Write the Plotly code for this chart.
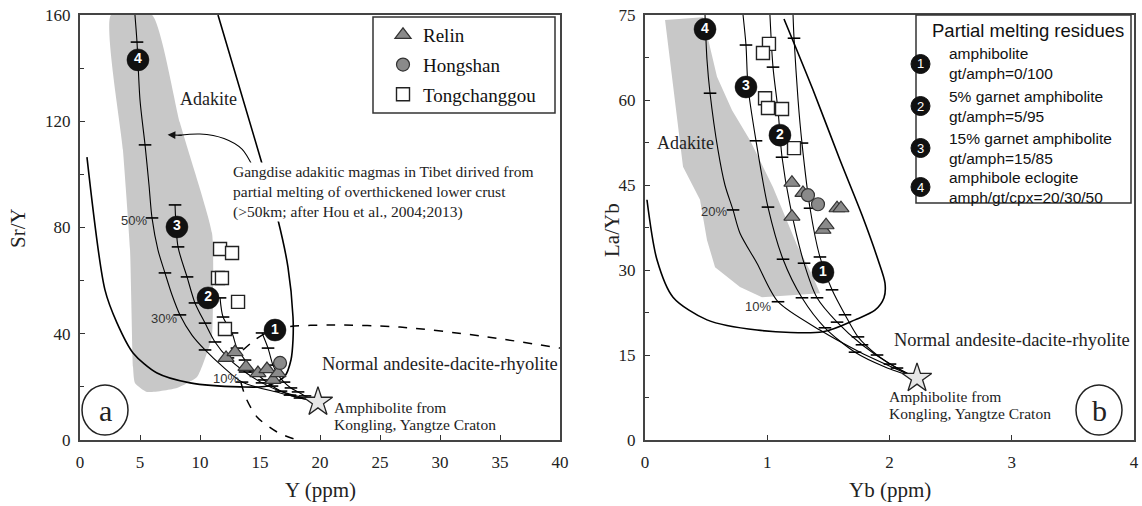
import plotly.graph_objects as go

W, H = 1142, 506
SERIF = "Liberation Serif"
SANS = "Liberation Sans"

# ---------------- Panel (a) data: Sr/Y vs Y ----------------
a_gray_x = [2.58, 6.0, 8.33, 11.0, 11.08, 11.0, 10.67, 9.75, 8.08, 5.58, 4.58, 4.42, 4.17, 3.58, 2.58]
a_gray_y = [160, 160, 119.4, 77.9, 52.7, 38.8, 33.9, 23.7, 19.6, 18.1, 21.5, 27.5, 71.5, 109.2, 160]

a_adakite_x = [0.58, 2.08, 3.08, 4.42, 6.42, 9.17, 13.33, 15.58, 17.08, 17.58, 17.75, 17.75, 17.33, 16.5, 15.25, 11.5]
a_adakite_y = [106.5, 56.5, 44.1, 32.8, 25.2, 21.5, 20.0, 20.3, 24.1, 30.1, 37.7, 46.3, 65.1, 82.8, 102.8, 160]

a_dash1_x = [13.58, 14.58, 15.67, 17.08, 20.83, 26.67, 33.33, 40]
a_dash1_y = [33.9, 37.7, 40.7, 42.5, 43.3, 42.5, 39.2, 34.6]
a_dash2_x = [13.42, 13.83, 14.75, 16.42, 18.08]
a_dash2_y = [21.5, 15.8, 8.7, 3.0, 0]

a_c1_x = [15.17, 15.67, 16.08, 16.5, 17.0, 17.58, 18.17, 18.75, 19.33, 19.83]
a_c1_y = [40.3, 34.6, 28.2, 24.5, 21.8, 19.6, 18.1, 16.6, 15.4, 14.3]
a_c2_x = [11.67, 11.92, 12.67, 13.08, 13.75, 14.58, 15.33, 16.0, 16.75, 17.5, 18.33, 19.83]
a_c2_y = [53.5, 46.3, 40.3, 34.6, 30.1, 25.6, 22.6, 20.3, 18.4, 16.9, 15.8, 14.3]
a_c3_x = [7.92, 8.17, 8.92, 9.58, 10.42, 11.25, 12.33, 13.75, 15.17, 16.67, 18.33, 19.83]
a_c3_y = [88.5, 72.7, 61.4, 51.6, 44.0, 36.9, 30.9, 25.6, 21.5, 18.4, 16.2, 14.3]
a_c4_x = [4.58, 4.75, 5.0, 5.42, 5.75, 6.0, 6.5, 7.08, 7.67, 8.33, 9.33, 10.42, 11.92, 13.5, 16.67, 19.83]
a_c4_y = [160, 149.8, 128.0, 111.1, 96.0, 83.6, 71.5, 62.9, 54.6, 47.1, 39.5, 33.9, 27.5, 21.8, 17.7, 14.3]
a_c4_tick_x = [4.75, 5.42, 6.0, 7.08, 8.33, 10.42, 13.5]
a_c4_tick_y = [149.8, 111.1, 83.6, 62.9, 47.1, 33.9, 21.8]

a_relin_x = [12.17, 12.92, 13.83, 14.83, 15.58, 16.08, 16.5]
a_relin_y = [30.9, 33.1, 27.5, 25.2, 26.7, 22.6, 25.2]
a_hong_x = [16.67]
a_hong_y = [29.0]
a_tong_x = [11.67, 12.67, 11.5, 11.83, 13.17, 12.08]
a_tong_y = [71.9, 70.4, 61.0, 61.0, 52.0, 41.8]

a_star = ([19.83], [14.3])
a_label_x = [16.25, 10.67, 8.08, 4.83]
a_label_y = [41.4, 53.5, 80.2, 143.1]
a_arrow_x = [14.42, 13.5, 12.0, 10.0, 8.2]
a_arrow_y = [102.8, 109.5, 113.5, 115.2, 114.7]

# ---------------- Panel (b) data: La/Yb vs Yb ----------------
b_gray_x = [0.164, 0.474, 0.589, 0.712, 0.859, 1.047, 1.243, 1.374, 1.432, 0.957, 0.777, 0.573, 0.507, 0.450, 0.311, 0.229, 0.164]
b_gray_y = [74.1, 74.6, 64.1, 58.2, 52.9, 44.6, 34.4, 28.8, 25.9, 25.2, 27.0, 30.5, 35.3, 42.4, 48.2, 63.0, 74.1]

b_adakite_x = [0.016, 0.098, 0.229, 0.507, 0.916, 1.456, 1.718, 1.881, 1.955, 1.963, 1.906, 1.775, 1.595, 1.374, 1.137]
b_adakite_y = [42.4, 31.8, 25.2, 21.2, 19.4, 19.1, 21.2, 22.9, 25.1, 27.7, 31.8, 39.7, 49.4, 61.8, 74.3]

b_c1_x = [1.211, 1.219, 1.252, 1.284, 1.350, 1.431, 1.530, 1.636, 1.742, 1.898, 2.061, 2.225]
b_c1_y = [75.0, 70.9, 60.0, 52.4, 40.9, 32.3, 26.5, 22.1, 18.2, 15.0, 12.7, 10.9]
b_c1_tick_x = [1.219, 1.284, 1.350, 1.431, 1.530, 1.636, 1.742, 1.898, 2.061]
b_c1_tick_y = [70.9, 52.4, 40.9, 32.3, 26.5, 22.1, 18.2, 15.0, 12.7]
b_c2_x = [1.022, 1.047, 1.088, 1.121, 1.186, 1.301, 1.407, 1.571, 1.775, 2.004, 2.225]
b_c2_y = [75.0, 65.8, 58.2, 49.9, 41.5, 31.2, 25.1, 20.8, 16.8, 13.4, 10.9]
b_c2_tick_x = [1.047, 1.121, 1.301, 1.407, 1.571, 1.775, 2.004]
b_c2_tick_y = [65.8, 49.9, 31.2, 25.1, 20.8, 16.8, 13.4]
b_c3_x = [0.802, 0.826, 0.843, 0.908, 1.006, 1.129, 1.284, 1.472, 1.718, 1.963, 2.225]
b_c3_y = [75.0, 69.7, 62.3, 52.8, 41.1, 31.9, 25.1, 19.8, 15.5, 12.9, 10.9]
b_c3_tick_x = [0.826, 0.908, 1.006, 1.129, 1.284, 1.472, 1.718]
b_c3_tick_y = [69.7, 52.8, 41.1, 31.9, 25.1, 19.8, 15.5]
b_c4_x = [0.491, 0.507, 0.532, 0.597, 0.654, 0.720, 0.777, 0.916, 1.088, 1.431, 1.759, 2.225]
b_c4_y = [75.0, 67.1, 61.2, 51.2, 45.0, 40.6, 36.5, 31.2, 24.4, 19.4, 15.5, 10.9]
b_c4_tick_x = [0.532, 0.720, 1.088]
b_c4_tick_y = [61.2, 40.6, 24.4]

b_relin_x = [1.202, 1.292, 1.202, 1.456, 1.481, 1.571, 1.603]
b_relin_y = [45.4, 43.6, 39.4, 37.1, 37.9, 40.9, 40.9]
b_hong_x = [1.333, 1.415]
b_hong_y = [43.2, 41.6]
b_tong_x = [1.014, 0.965, 0.982, 1.006, 1.121, 1.219]
b_tong_y = [69.9, 68.3, 60.3, 58.6, 58.4, 51.5]

b_star = ([2.225], [10.9])
b_label_x = [1.456, 1.104, 0.826, 0.491]
b_label_y = [29.6, 53.8, 62.3, 72.5]

curve_names = ["1", "2", "3", "4"]
residue_lines = [("amphibolite", "gt/amph=0/100"),
                 ("5% garnet amphibolite", "gt/amph=5/95"),
                 ("15% garnet amphibolite", "gt/amph=15/85"),
                 ("amphibole eclogite", "amph/gt/cpx=20/30/50")]

fig = go.Figure()


def add(tr, panel):
    if panel == "b":
        tr.update(xaxis="x2", yaxis="y2")
    fig.add_trace(tr)


def line_tr(x, y, dash="solid", width=1.2, shape="spline"):
    return go.Scatter(x=x, y=y, mode="lines", showlegend=False, hoverinfo="skip",
                      line=dict(color="black", width=width, dash=dash, shape=shape, smoothing=0.8))


def tick_tr(x, y):
    return go.Scatter(x=x, y=y, mode="markers", showlegend=False, hoverinfo="skip",
                      marker=dict(symbol="line-ew", size=9, line=dict(color="black", width=1.6)))


# Panel a
add(go.Scatter(x=a_gray_x, y=a_gray_y, mode="lines", fill="toself", fillcolor="#c8c8c8",
               line=dict(width=0, shape="spline", smoothing=0.5), showlegend=False, hoverinfo="skip"), "a")
add(line_tr(a_adakite_x, a_adakite_y, width=1.6), "a")
add(line_tr(a_dash1_x, a_dash1_y, dash="dash", width=1.5), "a")
add(line_tr(a_dash2_x, a_dash2_y, dash="dash", width=1.5), "a")
add(line_tr(a_arrow_x, a_arrow_y, width=1.1), "a")
for cx, cy in [(a_c1_x, a_c1_y), (a_c2_x, a_c2_y), (a_c3_x, a_c3_y), (a_c4_x, a_c4_y)]:
    add(line_tr(cx, cy, width=1.1), "a")
add(tick_tr(a_c1_x[:-1], a_c1_y[:-1]), "a")
add(tick_tr(a_c2_x[:-1], a_c2_y[:-1]), "a")
add(tick_tr(a_c3_x[:-3], a_c3_y[:-3]), "a")
add(tick_tr(a_c4_tick_x, a_c4_tick_y), "a")

# Panel b
add(go.Scatter(x=b_gray_x, y=b_gray_y, mode="lines", fill="toself", fillcolor="#c8c8c8",
               line=dict(width=0), showlegend=False, hoverinfo="skip"), "b")
add(line_tr(b_adakite_x, b_adakite_y, width=1.6), "b")
for cx, cy in [(b_c1_x, b_c1_y), (b_c2_x, b_c2_y), (b_c3_x, b_c3_y), (b_c4_x, b_c4_y)]:
    add(line_tr(cx, cy, width=1.1), "b")
add(tick_tr(b_c1_tick_x, b_c1_tick_y), "b")
add(tick_tr(b_c2_tick_x, b_c2_tick_y), "b")
add(tick_tr(b_c3_tick_x, b_c3_tick_y), "b")
add(tick_tr(b_c4_tick_x, b_c4_tick_y), "b")

# samples
tri = dict(symbol="triangle-up", size=14, color="#8a8a8a", line=dict(color="#333", width=1.2))
cir = dict(symbol="circle", size=13, color="#8a8a8a", line=dict(color="#333", width=1.2))
sq = dict(symbol="square", size=13, color="white", line=dict(color="#222", width=1.4))
for panel, data in [("a", [(a_relin_x, a_relin_y), (a_hong_x, a_hong_y), (a_tong_x, a_tong_y)]),
                    ("b", [(b_relin_x, b_relin_y), (b_hong_x, b_hong_y), (b_tong_x, b_tong_y)])]:
    for (nm, mk), (xx, yy) in zip([("Relin", tri), ("Hongshan", cir), ("Tongchanggou", sq)], data):
        add(go.Scatter(x=xx, y=yy, mode="markers", name=nm, marker=mk, legendgroup=nm,
                       showlegend=(panel == "a"), hoverinfo="skip"), panel)

# star end-members
for panel, st in [("a", a_star), ("b", b_star)]:
    add(go.Scatter(x=st[0], y=st[1], mode="markers", showlegend=False, hoverinfo="skip",
                   marker=dict(symbol="star", size=22, color="#e6e6e6", line=dict(color="#222", width=1.3))), panel)

# numbered curve labels
for panel, lx, ly in [("a", a_label_x, a_label_y), ("b", b_label_x, b_label_y)]:
    add(go.Scatter(x=lx, y=ly, mode="markers+text", text=curve_names, showlegend=False, hoverinfo="skip",
                   textposition="middle center",
                   textfont=dict(family=SANS, size=14, color="white", weight="bold"),
                   marker=dict(size=22, color="#111", line=dict(color="#111", width=0.5))), panel)

ax_common = dict(showgrid=False, zeroline=False, showline=True, linecolor="#444", linewidth=2,
                 mirror=True, ticks="inside", ticklen=5, tickwidth=1.2, tickcolor="#333",
                 tickfont=dict(family=SERIF, size=17, color="#222"), automargin=False)

fig.update_layout(
    width=W, height=H, margin=dict(l=0, r=0, t=0, b=0),
    paper_bgcolor="white", plot_bgcolor="white",
    xaxis=dict(domain=[80 / W, 560 / W], range=[0, 40], dtick=5, anchor="y", ticklabelstandoff=6, **ax_common),
    yaxis=dict(domain=[1 - 440 / H, 1 - 15 / H], range=[0, 160], dtick=40, anchor="x", ticklabelstandoff=4,
               minor=dict(dtick=20, ticks="inside", ticklen=4, tickcolor="#333"), **ax_common),
    xaxis2=dict(domain=[645 / W, 1134 / W], range=[0, 4], dtick=1, anchor="y2", ticklabelstandoff=6, **ax_common),
    yaxis2=dict(domain=[1 - 440 / H, 1 - 15 / H], range=[0, 75], dtick=15, anchor="x2", ticklabelstandoff=4,
                minor=dict(dtick=7.5, ticks="inside", ticklen=4, tickcolor="#333"), **ax_common),
    legend=dict(x=383 / W, y=1 - 16 / H, xanchor="left", yanchor="top", bgcolor="rgba(0,0,0,0)",
                borderwidth=0, font=dict(family=SERIF, size=19, color="#111"), tracegroupgap=2,
                itemwidth=30),
    showlegend=True,
)

shapes = []
# legend box (a)
shapes.append(dict(type="rect", xref="paper", yref="paper", x0=373 / W, x1=555 / W, y0=1 - 113 / H, y1=1 - 17 / H,
                   line=dict(color="#333", width=1.5), fillcolor="white", layer="above"))
# legend box (b)
shapes.append(dict(type="rect", xref="paper", yref="paper", x0=916 / W, x1=1131 / W, y0=1 - 203 / H, y1=1 - 15 / H,
                   line=dict(color="#333", width=1.5), fillcolor="white", layer="above"))
# a / b circles
for cx in [105, 1099]:
    shapes.append(dict(type="circle", xref="paper", yref="paper", x0=(cx - 23) / W, x1=(cx + 23) / W,
                       y0=1 - 435 / H, y1=1 - 385 / H, line=dict(color="#222", width=1.5), layer="above"))
entry_cy = [64, 106, 148, 187]
# numbered circles in legend (b)
for cy in entry_cy:
    shapes.append(dict(type="circle", xref="paper", yref="paper", x0=911 / W, x1=930 / W,
                       y0=1 - (cy + 9.5) / H, y1=1 - (cy - 9.5) / H, fillcolor="#111",
                       line=dict(color="#111", width=1), layer="above"))
fig.update_layout(shapes=shapes)

ann = []


def text(x, y, s, ref="a", size=16, family=SERIF, xanchor="center", color="#222", **kw):
    xr, yr = ("x", "y") if ref == "a" else (("x2", "y2") if ref == "b" else ("paper", "paper"))
    ann.append(dict(x=x, y=y, xref=xr, yref=yr, text=s, showarrow=False, xanchor=xanchor,
                    yanchor=kw.pop("yanchor", "middle"), font=dict(family=family, size=size, color=color), **kw))


# panel a texts
text(10.67, 128.4, "Adakite", size=18)
text(12.67, 93.4, "Gangdise adakitic magmas in Tibet dirived from<br>partial melting of overthickened lower crust"
     "<br>(>50km; after Hou et al., 2004;2013)", size=15.5, xanchor="left", align="left", bgcolor="white",
     borderpad=0)
text(20.0, 28.6, "Normal andesite-dacite-rhyolite", size=18.5, xanchor="left")
text(21.0, 12.4, "Amphibolite from", size=15.5, xanchor="left")
text(21.0, 5.65, "Kongling, Yangtze Craton", size=15.5, xanchor="left")
text(5.75, 82.8, "50%", size=13, family=SANS, xanchor="right", color="#333")
text(8.25, 45.6, "30%", size=13, family=SANS, xanchor="right", color="#333")
text(13.4, 23.3, "10%", size=13, family=SANS, xanchor="right", color="#333")
# arrow head
ann.append(dict(x=7.3, y=114.9, ax=8.6, ay=114.7, xref="x", yref="y", axref="x", ayref="y", text="",
                showarrow=True, arrowhead=2, arrowsize=1.3, arrowwidth=1.2, arrowcolor="#111"))

# panel b texts
text(0.335, 52.4, "Adakite", ref="b", size=18)
text(2.02, 17.6, "Normal andesite-dacite-rhyolite", ref="b", size=18.5, xanchor="left")
text(1.98, 7.6, "Amphibolite from", ref="b", size=15.5, xanchor="left")
text(1.98, 4.6, "Kongling, Yangtze Craton", ref="b", size=15.5, xanchor="left")
text(0.685, 40.4, "20%", ref="b", size=13, family=SANS, xanchor="right", color="#333")
text(1.05, 23.5, "10%", ref="b", size=13, family=SANS, xanchor="right", color="#333")

# panel letters
text(105 / W, 1 - 410 / H, "a", ref="p", size=30)
text(1099 / W, 1 - 410 / H, "b", ref="p", size=30)

# axis titles
text(320 / W, 1 - 490 / H, "Y (ppm)", ref="p", size=21)
text(890 / W, 1 - 490 / H, "Yb (ppm)", ref="p", size=21)
text(18 / W, 1 - 228 / H, "Sr/Y", ref="p", size=21, textangle=-90)
text(612 / W, 1 - 230 / H, "La/Yb", ref="p", size=21, textangle=-90)

# legend (b)
text(1028 / W, 1 - 31 / H, "Partial melting residues", ref="p", size=18.5, family=SANS, color="#111")
for i, (l1, l2) in enumerate(residue_lines):
    cy = entry_cy[i]
    text(920.5 / W, 1 - cy / H, curve_names[i], ref="p", size=13, family=SANS, color="white")
    text(948 / W, 1 - cy / H, l1 + "<br>" + l2, ref="p", size=15.5, family=SANS, xanchor="left",
         align="left", color="#111", borderpad=0)

fig.update_layout(annotations=ann)
fig.write_html("out.html")
